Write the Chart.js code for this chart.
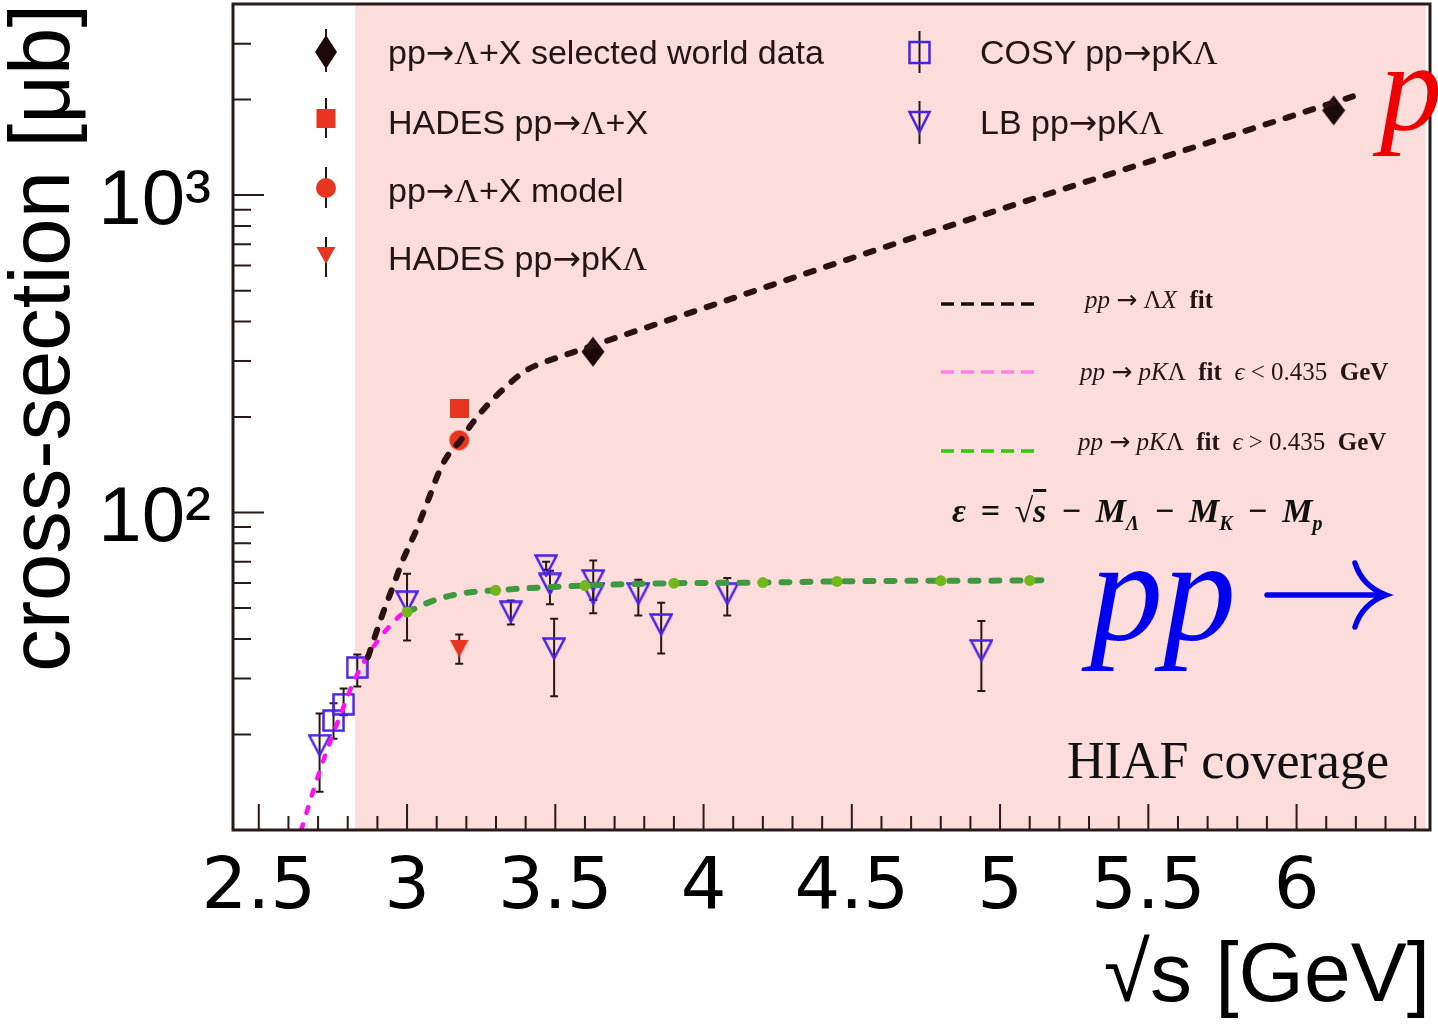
<!DOCTYPE html>
<html>
<head>
<meta charset="utf-8">
<script src="https://cdn.jsdelivr.net/npm/chart.js@4.4.0/dist/chart.umd.min.js"></script>
<style>
  html, body { margin: 0; padding: 0; background: #fff; }
  #wrap { position: relative; width: 1438px; height: 1024px; overflow: hidden; }
  #wrap canvas, #wrap svg { position: absolute; left: 0; top: 0; }
  .t { position: absolute; white-space: nowrap; line-height: 1; pointer-events: none; }
  .lg { font-family: "Liberation Sans", Arial, sans-serif; font-size: 34px; color: #241515; }
  .fl { font-family: "Liberation Serif", "Times New Roman", serif; font-size: 25px; color: #241515; }
  .fm { font-family: "Liberation Serif", "Times New Roman", serif; font-size: 34px; font-weight: bold; font-style: italic; color: #111; word-spacing: 6px; }
  .fm sub { font-size: 20px; }
  .big { font-family: "Liberation Serif", "Times New Roman", serif; font-style: italic; }
  .ar { font-family: "DejaVu Sans", sans-serif; font-style: normal; font-weight: normal; }
  .gl { font-family: "Liberation Serif", serif; }
</style>
</head>
<body>
<div id="wrap">
  <canvas id="c" width="1438" height="1024"></canvas>

  <!-- legend symbols -->
  <svg width="1438" height="1024">
    <g stroke="#241515" stroke-width="2">
      <line x1="326" y1="29" x2="326" y2="72"/>
      <line x1="326" y1="98" x2="326" y2="138"/>
      <line x1="326" y1="167" x2="326" y2="208"/>
      <line x1="326" y1="237" x2="326" y2="277"/>
      <line x1="919.5" y1="31" x2="919.5" y2="73"/>
      <line x1="919.5" y1="101" x2="919.5" y2="144"/>
    </g>
    <path d="M326,35 L337,52 L326,69 L315,52Z" fill="#1c0a0a"/>
    <rect x="316.5" y="109" width="19" height="19" fill="#e8351f"/>
    <circle cx="326" cy="188" r="10" fill="#e8351f"/>
    <path d="M316.5,247 L335.5,247 L326,264Z" fill="#e8351f"/>
    <rect x="909.5" y="42" width="20" height="21" fill="none" stroke="#4a22e6" stroke-width="2.5"/>
    <path d="M909.5,112 L929.5,112 L919.5,132Z" fill="none" stroke="#4a22e6" stroke-width="2.5"/>
    <g stroke-width="3.5" stroke-dasharray="13 7">
      <line x1="941" y1="304" x2="1034" y2="304" stroke="#111"/>
      <line x1="941" y1="372" x2="1034" y2="372" stroke="#ff80e0"/>
      <line x1="941" y1="451" x2="1034" y2="451" stroke="#2ccc00"/>
    </g>
    <!-- math arrow of the big blue label -->
    <g fill="none" stroke="#0000ee" stroke-width="5.5" stroke-linecap="round">
      <path d="M1267,595 L1384,595"/>
      <path d="M1355,563 Q1362,586 1386,595 Q1362,604 1355,627"/>
    </g>
  </svg>

  <div class="t lg" style="left:388px;top:35px">pp<span class="ar">→</span><span class="gl">Λ</span>+X selected world data</div>
  <div class="t lg" style="left:388px;top:105px">HADES pp<span class="ar">→</span><span class="gl">Λ</span>+X</div>
  <div class="t lg" style="left:388px;top:173px">pp<span class="ar">→</span><span class="gl">Λ</span>+X model</div>
  <div class="t lg" style="left:388px;top:241px">HADES pp<span class="ar">→</span>pK<span class="gl">Λ</span></div>
  <div class="t lg" style="left:980px;top:35px">COSY pp<span class="ar">→</span>pK<span class="gl">Λ</span></div>
  <div class="t lg" style="left:980px;top:105px">LB pp<span class="ar">→</span>pK<span class="gl">Λ</span></div>

  <div class="t fl" style="left:1085px;top:287px"><i>pp</i> <span class="ar">→</span> Λ<i>X</i>&nbsp;&nbsp;<b>fit</b></div>
  <div class="t fl" style="left:1080px;top:359px"><i>pp</i> <span class="ar">→</span> <i>pK</i>Λ&nbsp;&nbsp;<b>fit</b>&nbsp;&nbsp;<i>ϵ</i> &lt; 0.435&nbsp;&nbsp;<b>GeV</b></div>
  <div class="t fl" style="left:1078px;top:429px"><i>pp</i> <span class="ar">→</span> <i>pK</i>Λ&nbsp;&nbsp;<b>fit</b>&nbsp;&nbsp;<i>ϵ</i> &gt; 0.435&nbsp;&nbsp;<b>GeV</b></div>
  <div class="t fm" style="left:952px;top:494px">ε = √<span style="text-decoration:overline">s</span> − M<sub>Λ</sub> − M<sub>K</sub> − M<sub>p</sub></div>

  <div class="t big" style="left:1380px;top:26px;font-size:124px;color:#ee0000">p</div>
  <div class="t big" style="left:1090px;top:518px;font-size:146px;color:#0000ee">pp</div>
  <div class="t" style="left:1067px;top:735px;font-family:'Liberation Serif',serif;font-size:52px;color:#111">HIAF coverage</div>
</div>

<script>
// axis ranges
const xMin = 2.413, xMax = 6.45;
const yMin = 10, yMax = 4000;
const hiafFrom = 2.825, hiafTo = 6.435;

// pp -> Lambda + X selected world data
const worldX = [3.627, 6.125];
const worldY = [321, 1849];
const worldLo = [304, 1760];
const worldHi = [339, 1950];

// HADES pp -> Lambda + X
const hadesLX = [3.176];
const hadesLY = [213];

// pp -> Lambda + X model
const modelX = [3.176];
const modelY = [169];

// HADES pp -> p K Lambda
const hadesPX = [3.176];
const hadesPY = [37.3];
const hadesPLo = [33.4];
const hadesPHi = [41.3];

// COSY pp -> p K Lambda
const cosyX = [2.752, 2.786, 2.832];
const cosyY = [22.1, 24.9, 32.5];
const cosyLo = [19.4, 23.0, 28.3];
const cosyHi = [25.1, 27.9, 35.7];

// LB pp -> p K Lambda
const lbX = [2.705, 3.0, 3.35, 3.469, 3.482, 3.496, 3.628, 3.628, 3.78, 3.857, 4.08, 4.937];
const lbY = [18.5, 52.4, 48.7, 68.1, 59.6, 37.3, 61.1, 55.5, 55.5, 44.4, 55.5, 36.8];
const lbLo = [13.2, 39.5, 44.4, 66.0, 51.4, 26.4, 53.0, 48.2, 47.4, 36.0, 47.4, 27.4];
const lbHi = [23.3, 64.1, 52.8, 70.0, 65.6, 46.3, 70.6, 60.0, 61.4, 52.0, 62.2, 45.5];

// fits
const fitLX = [2.868, 2.92, 2.954, 2.983, 3.033, 3.072, 3.112, 3.145, 3.179, 3.218, 3.269, 3.325, 3.393, 3.439, 3.482, 3.595, 3.707, 3.808, 4.662, 6.19];
const fitLY = [35, 48.6, 58.9, 69.8, 88.8, 110, 137, 155, 168, 190, 217, 245, 277, 292, 302, 328, 356, 383, 711, 2046];
const fitLowX = [2.643, 2.705, 2.775, 2.831, 2.898, 2.977, 3.0];
const fitLowY = [10.0, 15.3, 23.0, 30.8, 39.1, 47.4, 49.0];
const fitHighX = [3.0, 3.089, 3.179, 3.299, 3.6, 3.9, 4.2, 4.45, 4.8, 5.1, 5.15];
const fitHighY = [48.6, 52.8, 55.5, 56.9, 58.9, 59.9, 60.2, 60.7, 61.0, 61.1, 61.3];
const fitDotX = [3.0, 3.299, 3.6, 3.9, 4.2, 4.45, 4.8, 5.1];
const fitDotY = [48.6, 56.9, 58.9, 59.9, 60.2, 60.7, 61.0, 61.1];

const pts = (xs, ys) => xs.map((x, i) => ({ x, y: ys[i] }));

// ROOT-like marker bitmaps
function marker(w, h, draw) {
  const c = document.createElement("canvas");
  c.width = w; c.height = h;
  draw(c.getContext("2d"), w, h);
  return c;
}
const RED = "#e8351f", BLUE = "#4a22e6";
const mDiamond = marker(24, 31, (g, w, h) => {
  g.fillStyle = "#1c0a0a"; g.beginPath();
  g.moveTo(w / 2, 0.5); g.lineTo(w - 0.5, h / 2); g.lineTo(w / 2, h - 0.5); g.lineTo(0.5, h / 2);
  g.closePath(); g.fill();
});
const mSquare = marker(19, 19, (g, w, h) => { g.fillStyle = RED; g.fillRect(0, 0, w, h); });
const mCircle = marker(21, 21, (g) => { g.fillStyle = RED; g.beginPath(); g.arc(10.5, 10.5, 10, 0, Math.PI * 2); g.fill(); });
const mTriDown = marker(19, 18, (g, w, h) => {
  g.fillStyle = RED; g.beginPath(); g.moveTo(0, 0); g.lineTo(w, 0); g.lineTo(w / 2, h); g.closePath(); g.fill();
});
const mOpenSq = marker(23, 23, (g) => { g.strokeStyle = BLUE; g.lineWidth = 2.5; g.strokeRect(1.5, 1.5, 20, 20); });
const mOpenTri = marker(24, 23, (g) => {
  g.strokeStyle = BLUE; g.lineWidth = 2.5; g.lineJoin = "miter"; g.beginPath();
  g.moveTo(1.5, 1.5); g.lineTo(22.5, 1.5); g.lineTo(12, 21.5); g.closePath(); g.stroke();
});

const lineDs = (label, xs, ys, color, width, dash) => ({
  label, data: pts(xs, ys), showLine: true, borderColor: color, borderWidth: width,
  borderDash: dash, borderCapStyle: "round", pointRadius: 0, fill: false,
  cubicInterpolationMode: "monotone", order: 0,
});
const markDs = (label, xs, ys, style, lo, hi, cap) => ({
  label, data: pts(xs, ys), pointStyle: style, pointRadius: 10, showLine: false,
  errLo: lo, errHi: hi, cap, order: 1,
});

// pink HIAF band + error bars underneath, frame + inward ticks on top
const framePlugin = {
  id: "frame",
  beforeDatasetsDraw(chart) {
    const { ctx, chartArea: a, scales: { x, y } } = chart;
    ctx.save();
    const l = x.getPixelForValue(hiafFrom), r = x.getPixelForValue(hiafTo);
    ctx.fillStyle = "#fddcdc";
    ctx.fillRect(l, a.top, r - l, a.bottom - a.top);
    ctx.strokeStyle = "#2b1616"; ctx.lineWidth = 2;
    chart.data.datasets.forEach((ds, i) => {
      if (!ds.errLo) return;
      chart.getDatasetMeta(i).data.forEach((p, j) => {
        const y1 = y.getPixelForValue(ds.errLo[j]), y2 = y.getPixelForValue(ds.errHi[j]);
        const c = ds.cap;
        ctx.beginPath();
        ctx.moveTo(p.x, y1); ctx.lineTo(p.x, y2);
        if (c) {
          ctx.moveTo(p.x - c, y1); ctx.lineTo(p.x + c, y1);
          ctx.moveTo(p.x - c, y2); ctx.lineTo(p.x + c, y2);
        }
        ctx.stroke();
      });
    });
    ctx.restore();
  },
  afterDatasetsDraw(chart) {
    const { ctx, chartArea: a, scales: { x, y } } = chart;
    ctx.save();
    ctx.strokeStyle = "#2a1a1a";
    ctx.lineWidth = 2;
    ctx.beginPath();
    for (let k = 25; k <= 64; k++) {
      const px = x.getPixelForValue(k / 10);
      if (px < a.left || px > a.right) continue;
      const len = k % 5 === 0 ? 26 : 14;
      ctx.moveTo(px, a.bottom); ctx.lineTo(px, a.bottom - len);
    }
    for (const dec of [10, 100, 1000]) {
      for (let m = 1; m <= 9; m++) {
        const v = m * dec;
        if (v < yMin || v > yMax) continue;
        const py = y.getPixelForValue(v), len = m === 1 ? 31 : 18;
        ctx.moveTo(a.left, py); ctx.lineTo(a.left + len, py);
      }
    }
    ctx.stroke();
    ctx.lineWidth = 3;
    ctx.strokeRect(a.left, a.top, a.right - a.left, a.bottom - a.top);
    ctx.restore();
  },
};

new Chart(document.getElementById("c"), {
  type: "scatter",
  data: {
    datasets: [
      { label: "fit pts", data: pts(fitDotX, fitDotY), pointRadius: 5.5, pointStyle: "circle",
        backgroundColor: "#72b81c", borderWidth: 0, showLine: false, order: -1 },
      lineDs("pp→ΛX fit", fitLX, fitLY, "#2a1212", 6, [8, 13]),
      lineDs("pp→pKΛ fit ε<0.435 GeV", fitLowX, fitLowY, "#ff10f0", 4.5, [6, 12]),
      lineDs("pp→pKΛ fit ε>0.435 GeV", fitHighX, fitHighY, "#3f9a3f", 6, [8, 13]),
      markDs("pp→Λ+X selected world data", worldX, worldY, mDiamond, worldLo, worldHi, 0),
      markDs("HADES pp→Λ+X", hadesLX, hadesLY, mSquare),
      markDs("pp→Λ+X model", modelX, modelY, mCircle),
      markDs("HADES pp→pKΛ", hadesPX, hadesPY, mTriDown, hadesPLo, hadesPHi, 4),
      markDs("COSY pp→pKΛ", cosyX, cosyY, mOpenSq, cosyLo, cosyHi, 4),
      markDs("LB pp→pKΛ", lbX, lbY, mOpenTri, lbLo, lbHi, 4),
    ],
  },
  options: {
    responsive: false, animation: false, events: [],
    layout: { autoPadding: false, padding: { top: 4, right: 8, left: 0, bottom: 0 } },
    plugins: { legend: { display: false }, tooltip: { enabled: false } },
    scales: {
      x: {
        type: "linear", min: xMin, max: xMax,
        grid: { display: false }, border: { display: false },
        ticks: { stepSize: 0.5, includeBounds: false, padding: 15, color: "#000",
          font: { family: "DejaVu Sans", size: 72, lineHeight: 1 }, maxRotation: 0,
          callback: (v) => String(v) },
        title: { display: true, text: "√s [GeV]", align: "end", color: "#000",
          font: { family: "Liberation Sans", size: 84, lineHeight: 1 }, padding: { bottom: 4 } },
        afterFit: (s) => { s.height = 194; s.paddingLeft = 0; s.paddingRight = 0; },
      },
      y: {
        type: "logarithmic", min: yMin, max: yMax,
        grid: { display: false }, border: { display: false },
        afterBuildTicks: (s) => { s.ticks = [100, 1000].map((value) => ({ value })); },
        ticks: { padding: 14, labelOffset: 7, color: "#000",
          font: { family: "Liberation Sans", size: 78, lineHeight: 1 },
          callback: (v) => (v === 100 ? "10²" : v === 1000 ? "10³" : "") },
        title: { display: true, text: "cross-section [μb]", align: "end", color: "#000",
          font: { family: "Liberation Sans", size: 85, lineHeight: 1 }, padding: { top: 3 } },
        afterFit: (s) => { s.width = 233; s.paddingTop = 0; s.paddingBottom = 0; },
      },
    },
  },
  plugins: [framePlugin],
});
</script>
</body>
</html>
